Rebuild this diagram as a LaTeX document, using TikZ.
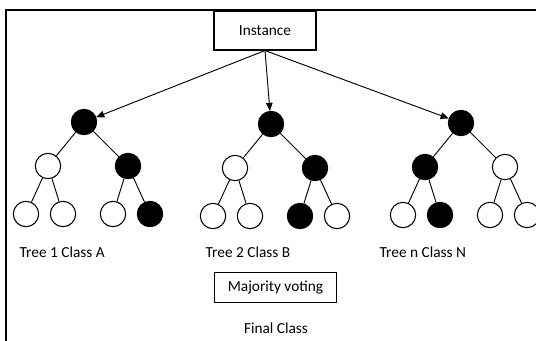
\documentclass[tikz,border=0pt]{standalone}
\usepackage{fontspec}
\setmainfont{Carlito}
\usetikzlibrary{arrows.meta,trees}

\begin{document}
\begin{tikzpicture}[x=0.75pt,y=-0.75pt,level 1/.style={grow via three points={one child at (3pt,-33pt) and two children at (-27pt,-33pt) and (33pt,-33pt)}},every node/.style={font=\fontsize{11.5}{14}\selectfont},on/.style={circle,draw,line width=0.8pt,fill=black,minimum size=19pt,inner sep=0pt},off/.style={circle,draw,line width=0.8pt,fill=white,minimum size=19pt,inner sep=0pt},box/.style={draw,line width=0.8pt,fill=white},edge from parent/.style={draw,line width=0.7pt},arr/.style={-{Triangle[length=6pt,width=5pt]},line width=0.7pt},lsub/.style={level 2/.style={grow via three points={one child at (0pt,-36pt) and two children at (-16.5pt,-36pt) and (11.25pt,-36pt)}}},rsub/.style={level 2/.style={grow via three points={one child at (0pt,-36pt) and two children at (-11.25pt,-36pt) and (16.5pt,-36pt)}}}]
\useasboundingbox (0,0) rectangle (536,340);
\clip (0,0) rectangle (536,340);
\draw[line width=1.5pt] (6,350) |- (545,10);
\node[box,minimum width=76.5pt,minimum height=29.25pt] (inst) at (265,30.5) {Instance};
% trees
\node[on] (t1) at (84,122) {}
child[lsub] { node[off] {} child { node[off] {} } child { node[off] {} } }
child[rsub] { node[on] {} child { node[off] {} } child { node[on] {} } };
\node[on] (t2) at (271,124) {}
child[lsub] { node[off] {} child { node[off] {} } child { node[off] {} } }
child[rsub] { node[on] {} child { node[on] {} } child { node[off] {} } };
\node[on] (tn) at (461,123) {}
child[lsub] { node[on] {} child { node[off] {} } child { node[on] {} } }
child[rsub] { node[off] {} child { node[off] {} } child { node[off] {} } };
\draw[arr] (inst.south) -- (t1);
\draw[arr] (inst.south) -- (t2);
\draw[arr] (inst.south) -- (tn);
\node[anchor=west] (lab1) at (15,252) {Tree 1 Class A};
\node[anchor=west] (lab2) at (201,252) {Tree 2 Class B};
\node[anchor=west] (labn) at (375,252) {Tree n Class N};
\node[box,minimum width=92pt,minimum height=23pt] (vote) at (275.5,287.5) {Majority voting};
\node (fin) at (276,328) {Final Class};
\end{tikzpicture}
\end{document}
